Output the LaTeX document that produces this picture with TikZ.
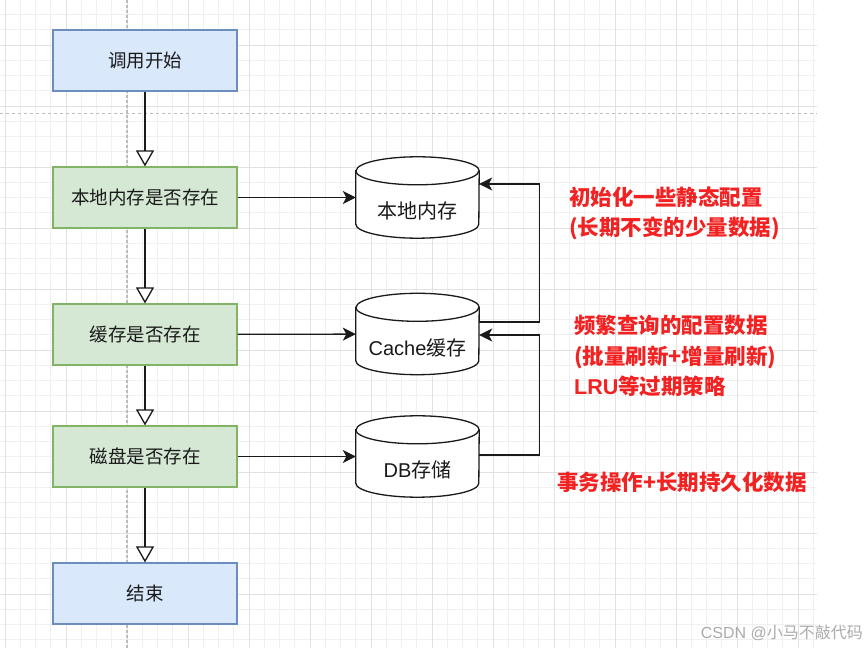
\documentclass[tikz,border=0pt]{standalone}
\usepackage{fontspec}
\setmainfont{Liberation Sans}
\newfontfamily\cjk{Noto Sans CJK SC}
\usetikzlibrary{arrows.meta,calc}
\definecolor{bluefill}{HTML}{DAE8FC}
\definecolor{bluedraw}{HTML}{6C8EBF}
\definecolor{greenfill}{HTML}{D5E8D4}
\definecolor{greendraw}{HTML}{82B366}
\definecolor{ink}{HTML}{1A1A1A}
\definecolor{notered}{HTML}{F22222}
\definecolor{minorgrid}{HTML}{F0F0F0}
\definecolor{majorgrid}{HTML}{E1E1E1}
\definecolor{pagedash}{HTML}{BDBDBD}
\definecolor{wmark}{HTML}{ABABAB}
\tikzset{
  procbox/.style={rectangle, minimum width=184pt, minimum height=61pt, inner sep=0pt,
    line width=1.2pt, text=ink, font=\cjk\fontsize{18.5}{20}\selectfont},
  termbox/.style={procbox, fill=bluefill, draw=bluedraw},
  checkbox/.style={procbox, fill=greenfill, draw=greendraw},
  cylbody/.style={rectangle, minimum width=123pt, minimum height=81pt, inner sep=0pt, draw=none},
  cyllabel/.style={inner sep=0pt, text=ink, font=\fontsize{20}{22}\selectfont},
  cylline/.style={line width=1.3pt, draw=ink, fill=white},
  downarrow/.style={line width=1.3pt, draw=ink, -{Triangle[length=16pt,width=18pt,fill=white,line width=1.3pt]}},
  sidearrow/.style={line width=1.3pt, draw=ink, -{Stealth[length=13pt,width=13pt,inset=3.5pt]}},
  note/.style={anchor=west, inner sep=0pt, text=notered, font=\cjk\bfseries\fontsize{21.5}{23}\selectfont},
}
\newcommand\drawcyl[1]{%
  \filldraw[cylline] ($(#1.north west)+(0,-14)$) -- ($(#1.south west)+(0,14)$)
    arc[start angle=180,end angle=360,x radius=61.5,y radius=14]
    -- ($(#1.north east)+(0,-14)$)
    arc[start angle=0,end angle=180,x radius=61.5,y radius=14] -- cycle;
  \draw[cylline, fill=none] ($(#1.north west)+(0,-14)$)
    arc[start angle=180,end angle=360,x radius=61.5,y radius=14];
}
\begin{document}
\begin{tikzpicture}[x=1pt,y=1pt]
\useasboundingbox (0,0) rectangle (868,648);
\fill[white] (0,0) rectangle (868,648);
% grid
\begin{scope}
  \clip (0,0) rectangle (817,648);
  \foreach \i in {0,...,53} \draw[minorgrid, line width=0.8pt] ({5+15.25*\i},0) -- ({5+15.25*\i},648);
  \foreach \k in {-2,...,39} \draw[minorgrid, line width=0.8pt] (0,{603-15.25*\k}) -- (817,{603-15.25*\k});
  \foreach \i in {0,...,13} \draw[majorgrid, line width=0.9pt] ({5+61*\i},0) -- ({5+61*\i},648);
  \foreach \k in {0,...,9} \draw[majorgrid, line width=0.9pt] (0,{603-61*\k}) -- (817,{603-61*\k});
  \draw[pagedash, line width=1pt, dash pattern=on 3pt off 3pt] (0,534) -- (817,534);
  \draw[pagedash, line width=1.2pt, dash pattern=on 2.5pt off 2.5pt] (127,0) -- (127,648);
\end{scope}
% flow boxes
\node[termbox]  (b1) at (145,587.5) {调用开始};
\node[checkbox] (b2) at (145,450.5) {本地内存是否存在};
\node[checkbox] (b3) at (145,313.5) {缓存是否存在};
\node[checkbox] (b4) at (145,191.5) {磁盘是否存在};
\node[termbox]  (b5) at (145,54.5)  {结束};
\draw[downarrow] (b1) -- (b2);
\draw[downarrow] (b2) -- (b3);
\draw[downarrow] (b3) -- (b4);
\draw[downarrow] (b4) -- (b5);
% cylinders
\node[cylbody] (c1) at (417.5,450.5) {};
\node[cylbody] (c2) at (417.5,314) {};
\node[cylbody] (c3) at (417.5,191.5) {};
\drawcyl{c1}
\drawcyl{c2}
\drawcyl{c3}
\node[cyllabel] (c1t) at ($(c1)+(0,-13.5)$) {{\cjk 本地内存}};
\node[cyllabel] (c2t) at ($(c2)+(0,-13.5)$) {Cache{\cjk 缓存}};
\node[cyllabel] (c3t) at ($(c3)+(0,-13.5)$) {DB{\cjk 存储}};
\draw[sidearrow] (b2) -- (c1);
\draw[sidearrow] (b3) -- (c2);
\draw[sidearrow] (b4) -- (c3);
\draw[sidearrow] ([yshift=12pt]c2.east) -- ++(60,0) |- ([yshift=13.5pt]c1.east);
\draw[sidearrow] ([yshift=1.5pt]c3.east) -- ++(60,0) |- ([yshift=-1pt]c2.east);
% notes
\node[note] (n1) at (569,451) {初始化一些静态配置};
\node[note] (n2) at (569,420) {(长期不变的少量数据)};
\node[note] (n3) at (574,323) {频繁查询的配置数据};
\node[note] (n4) at (574,291) {(批量刷新+增量刷新)};
\node[note] (n5) at (574,262) {{\fontspec{Liberation Sans}\bfseries LRU}等过期策略};
\node[note] (n6) at (557,166) {事务操作+长期持久化数据};
% watermark
\node[anchor=east, inner sep=0pt, text=wmark, font=\fontsize{16}{18}\selectfont] (wm) at (863,15) {CSDN @{\cjk 小马不敲代码}};
\end{tikzpicture}
\end{document}
